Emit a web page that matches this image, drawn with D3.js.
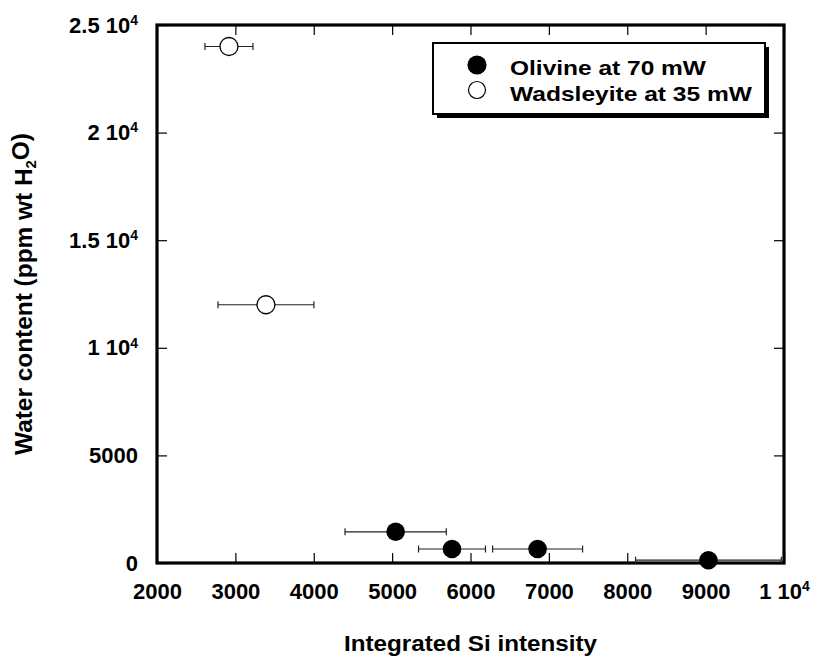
<!DOCTYPE html>
<html>
<head>
<meta charset="utf-8">
<script src="https://cdn.jsdelivr.net/npm/d3@7"></script>
<style>
  body { margin: 0; background: #fff; }
  svg { display: block; font-family: "Liberation Sans", Arial, sans-serif; font-weight: bold; }
</style>
</head>
<body>
<div id="chart"></div>
<script>
// olivine (filled) and wadsleyite (open) points, x error is a half-width
const olivineSi = [5045, 5764, 6856, 9036];
const olivineWater = [1450, 650, 650, 130];
const olivineErr = [646, 427, 574, 930];

const wadsleyiteSi = [2918, 3390];
const wadsleyiteWater = [24000, 12000];
const wadsleyiteErr = [306, 612];

const xTicks = [2000, 3000, 4000, 5000, 6000, 7000, 8000, 9000, 10000];
const xTickLabels = [['2000'], ['3000'], ['4000'], ['5000'], ['6000'], ['7000'], ['8000'], ['9000'], ['1 10', '4']];
const yTicks = [0, 5000, 10000, 15000, 20000, 25000];
const yTickLabels = [['0'], ['5000'], ['1 10', '4'], ['1.5 10', '4'], ['2 10', '4'], ['2.5 10', '4']];

const legendLabels = ['Olivine at 70 mW', 'Wadsleyite at 35 mW'];

const width = 817, height = 662;
const margin = {top: 25, right: 33, bottom: 99, left: 157};

const svg = d3.select('#chart').append('svg')
    .attr('width', width)
    .attr('height', height);

const x = d3.scaleLinear().domain([2000, 10000]).range([margin.left, width - margin.right]);
const y = d3.scaleLinear().domain([0, 25000]).range([height - margin.bottom, margin.top]);

// write "mantissa" + superscript exponent into a tick label
function supLabel(sel, labels, ticks) {
    sel.each(function(d) {
        const parts = labels[ticks.indexOf(d)];
        const t = d3.select(this).text(null);
        t.append('tspan').text(parts[0]);
        if (parts[1]) {
            t.append('tspan').attr('dy', '-0.55em').style('font-size', '14px').text(parts[1]);
        }
    });
}

const gx = svg.append('g')
    .attr('transform', 'translate(0,' + y(0) + ')')
    .call(d3.axisBottom(x).tickValues(xTicks).tickSizeInner(-10).tickSizeOuter(0).tickPadding(20));
gx.selectAll('text').style('font-size', '22px').call(supLabel, xTickLabels, xTicks);

const gy = svg.append('g')
    .attr('transform', 'translate(' + x(2000) + ',0)')
    .call(d3.axisLeft(y).tickValues(yTicks).tickSizeInner(-10).tickSizeOuter(0).tickPadding(19));
gy.selectAll('text').style('font-size', '22px').call(supLabel, yTickLabels, yTicks);

svg.append('g')
    .attr('transform', 'translate(0,' + y(25000) + ')')
    .call(d3.axisTop(x).tickValues(xTicks).tickSizeInner(-10).tickSizeOuter(0).tickFormat(''));
svg.append('g')
    .attr('transform', 'translate(' + x(10000) + ',0)')
    .call(d3.axisRight(y).tickValues(yTicks).tickSizeInner(-10).tickSizeOuter(0).tickFormat(''));

svg.selectAll('.domain').remove();
svg.selectAll('.tick line').attr('stroke', '#000').attr('stroke-width', 1.2);

// thick frame
svg.append('rect')
    .attr('x', x(2000)).attr('y', y(25000))
    .attr('width', x(10000) - x(2000)).attr('height', y(0) - y(25000))
    .attr('fill', 'none').attr('stroke', '#000').attr('stroke-width', 3.2);

// axis titles
svg.append('text')
    .attr('x', (x(2000) + x(10000)) / 2).attr('y', 651)
    .attr('text-anchor', 'middle')
    .attr('textLength', 253).attr('lengthAdjust', 'spacingAndGlyphs')
    .style('font-size', '22px')
    .text('Integrated Si intensity');

const yt = svg.append('text')
    .attr('transform', 'translate(32,294) rotate(-90)')
    .attr('text-anchor', 'middle')
    .attr('textLength', 322).attr('lengthAdjust', 'spacingAndGlyphs')
    .style('font-size', '23px');
yt.append('tspan').text('Water content (ppm wt H');
yt.append('tspan').attr('dy', '0.3em').style('font-size', '14px').text('2');
yt.append('tspan').attr('dy', '-0.3em').text('O)');

function errorBars(xs, ys, errs) {
    const g = svg.append('g').attr('stroke', '#222').attr('stroke-width', 1.2);
    xs.forEach((xv, i) => {
        const yy = y(ys[i]), x0 = x(xv - errs[i]), x1 = x(xv + errs[i]);
        g.append('line').attr('x1', x0).attr('x2', x1).attr('y1', yy).attr('y2', yy);
        g.append('line').attr('x1', x0).attr('x2', x0).attr('y1', yy - 3.5).attr('y2', yy + 3.5);
        g.append('line').attr('x1', x1).attr('x2', x1).attr('y1', yy - 3.5).attr('y2', yy + 3.5);
    });
}

errorBars(wadsleyiteSi, wadsleyiteWater, wadsleyiteErr);
errorBars(olivineSi, olivineWater, olivineErr);

svg.append('g').selectAll('circle')
    .data(wadsleyiteSi)
    .enter().append('circle')
        .attr('cx', (d) => x(d))
        .attr('cy', (d, i) => y(wadsleyiteWater[i]))
        .attr('r', 9)
        .attr('fill', '#fff').attr('stroke', '#000').attr('stroke-width', 1.3);

svg.append('g').selectAll('circle')
    .data(olivineSi)
    .enter().append('circle')
        .attr('cx', (d) => x(d))
        .attr('cy', (d, i) => y(olivineWater[i]))
        .attr('r', 9.3)
        .attr('fill', '#000');

// legend with drop shadow
const lg = svg.append('g').attr('transform', 'translate(433,43)');
lg.append('rect').attr('x', 4).attr('y', 4).attr('width', 332).attr('height', 71).attr('fill', '#000');
lg.append('rect').attr('width', 332).attr('height', 71)
    .attr('fill', '#fff').attr('stroke', '#000').attr('stroke-width', 2);

lg.append('circle').attr('cx', 44).attr('cy', 22).attr('r', 9.6).attr('fill', '#000');
lg.append('circle').attr('cx', 44).attr('cy', 47).attr('r', 8.5)
    .attr('fill', '#fff').attr('stroke', '#000').attr('stroke-width', 1.2);

const legendWidths = [196, 242];
lg.selectAll('text.leg')
    .data(legendLabels)
    .enter().append('text')
        .attr('class', 'leg')
        .attr('x', 77)
        .attr('y', (d, i) => 32 + i * 25.5)
        .attr('textLength', (d, i) => legendWidths[i])
        .attr('lengthAdjust', 'spacingAndGlyphs')
        .style('font-size', '21px')
        .text((d) => d);
</script>
</body>
</html>
